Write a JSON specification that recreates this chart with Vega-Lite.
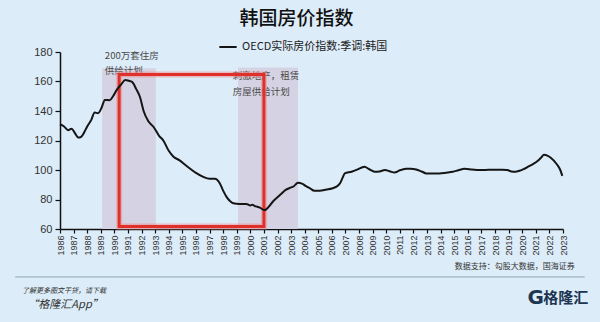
{
  "$schema": "https://vega.github.io/schema/vega-lite/v6.json",
  "autosize": {"type": "none"},
  "width": 503,
  "height": 177,
  "padding": {"left": 60, "top": 52, "right": 37, "bottom": 93},
  "background": "#dcecf8",
  "title": {
    "text": "韩国房价指数",
    "font": "Noto Sans CJK SC",
    "fontSize": 19,
    "fontWeight": 500,
    "color": "#111111",
    "anchor": "middle",
    "dx": -15,
    "offset": 8
  },
  "config": {
    "view": {"stroke": null},
    "font": "Noto Sans CJK SC",
    "axis": {"labelOverlap": false, "grid": false, "title": null, "tickColor": "#111111", "domainColor": "#111111", "domainWidth": 1.5, "tickWidth": 1.2, "labelColor": "#333333", "labelFont": "Liberation Sans"}
  },
  "datasets": {
    "price": [
      {"year": 1986.0, "value": 131}, {"year": 1986.3, "value": 129.5}, {"year": 1986.6, "value": 127},
      {"year": 1986.85, "value": 128}, {"year": 1987.1, "value": 125}, {"year": 1987.35, "value": 122},
      {"year": 1987.55, "value": 122.5}, {"year": 1987.75, "value": 125}, {"year": 1988.0, "value": 129.5},
      {"year": 1988.3, "value": 134}, {"year": 1988.55, "value": 139}, {"year": 1988.8, "value": 138.5},
      {"year": 1989.05, "value": 142}, {"year": 1989.3, "value": 147.5}, {"year": 1989.65, "value": 147.3},
      {"year": 1989.9, "value": 150}, {"year": 1990.15, "value": 154}, {"year": 1990.5, "value": 158},
      {"year": 1990.8, "value": 161}, {"year": 1991.05, "value": 160.5}, {"year": 1991.3, "value": 159.7},
      {"year": 1991.6, "value": 155}, {"year": 1991.9, "value": 149}, {"year": 1992.15, "value": 140},
      {"year": 1992.5, "value": 133}, {"year": 1992.9, "value": 129}, {"year": 1993.3, "value": 123},
      {"year": 1993.6, "value": 120}, {"year": 1994.0, "value": 113}, {"year": 1994.35, "value": 109},
      {"year": 1994.8, "value": 106.5}, {"year": 1995.2, "value": 103.5}, {"year": 1995.55, "value": 101},
      {"year": 1996.0, "value": 98}, {"year": 1996.5, "value": 95.5}, {"year": 1997.0, "value": 94},
      {"year": 1997.4, "value": 94}, {"year": 1997.75, "value": 91}, {"year": 1998.0, "value": 86},
      {"year": 1998.25, "value": 81.8}, {"year": 1998.5, "value": 79}, {"year": 1998.75, "value": 77.4},
      {"year": 1999.2, "value": 77}, {"year": 1999.7, "value": 77}, {"year": 2000.0, "value": 76},
      {"year": 2000.15, "value": 76.5}, {"year": 2000.3, "value": 75.7}, {"year": 2000.7, "value": 74.5},
      {"year": 2001.05, "value": 72.8}, {"year": 2001.35, "value": 75}, {"year": 2001.65, "value": 78.5},
      {"year": 2002.0, "value": 81.5}, {"year": 2002.3, "value": 84}, {"year": 2002.6, "value": 86.5},
      {"year": 2002.9, "value": 87.8}, {"year": 2003.2, "value": 89}, {"year": 2003.5, "value": 91.3},
      {"year": 2003.8, "value": 90.8}, {"year": 2004.1, "value": 89}, {"year": 2004.4, "value": 87.5},
      {"year": 2004.7, "value": 86}, {"year": 2005.1, "value": 86}, {"year": 2005.6, "value": 86.8},
      {"year": 2006.0, "value": 87.5}, {"year": 2006.3, "value": 88.5}, {"year": 2006.6, "value": 91},
      {"year": 2006.8, "value": 95}, {"year": 2006.95, "value": 97.7}, {"year": 2007.45, "value": 98.8},
      {"year": 2007.9, "value": 100.4}, {"year": 2008.15, "value": 101.5}, {"year": 2008.4, "value": 102.2},
      {"year": 2008.75, "value": 100.5}, {"year": 2009.15, "value": 98.8}, {"year": 2009.5, "value": 99},
      {"year": 2009.9, "value": 100}, {"year": 2010.3, "value": 99}, {"year": 2010.6, "value": 98.3},
      {"year": 2011.0, "value": 99.8}, {"year": 2011.45, "value": 100.8}, {"year": 2011.8, "value": 100.9},
      {"year": 2012.2, "value": 100.4}, {"year": 2012.6, "value": 99}, {"year": 2012.95, "value": 97.7},
      {"year": 2013.4, "value": 97.6}, {"year": 2013.9, "value": 97.7}, {"year": 2014.4, "value": 98.2},
      {"year": 2014.9, "value": 98.8}, {"year": 2015.3, "value": 99.8}, {"year": 2015.75, "value": 100.8},
      {"year": 2016.3, "value": 100.4}, {"year": 2016.85, "value": 100}, {"year": 2017.5, "value": 100.1},
      {"year": 2018.1, "value": 100.2}, {"year": 2018.5, "value": 100.2}, {"year": 2018.9, "value": 100},
      {"year": 2019.2, "value": 99}, {"year": 2019.5, "value": 98.8}, {"year": 2019.8, "value": 99.5},
      {"year": 2020.1, "value": 100.6}, {"year": 2020.5, "value": 102.6}, {"year": 2020.85, "value": 104.3},
      {"year": 2021.15, "value": 106.2}, {"year": 2021.4, "value": 108.5}, {"year": 2021.6, "value": 110.3},
      {"year": 2021.85, "value": 109.8}, {"year": 2022.1, "value": 108.3}, {"year": 2022.5, "value": 104.4},
      {"year": 2022.8, "value": 100}, {"year": 2022.95, "value": 96}
    ],
    "bands": [
      {"start": 1989.1, "end": 1993.05, "lo": 60, "hi": 169},
      {"start": 1999.1, "end": 2003.5, "lo": 60, "hi": 169.5}
    ],
    "box": [
      {"start": 1990.35, "end": 2001.0, "lo": 61.7, "hi": 164.7}
    ],
    "notes": [
      {"year": 1989.3, "value": 177.2, "label": "200万套住房"},
      {"year": 1989.3, "value": 167.4, "label": "供给计划"},
      {"year": 1998.7, "value": 163.5, "label": "刺激地产，租赁"},
      {"year": 1998.7, "value": 152.7, "label": "房屋供给计划"}
    ],
    "sep": [
      {"start": 1982.7, "end": 2024.6, "value": 27.5}
    ]
  },
  "layer": [
    {
      "data": {"name": "bands"},
      "mark": {"type": "rect", "color": "#d5d3e3"},
      "encoding": {
        "x": {
          "field": "start", "type": "quantitative",
          "scale": {"domain": [1986, 2023], "nice": false, "zero": false},
          "axis": {
            "values": [1986,1987,1988,1989,1990,1991,1992,1993,1994,1995,1996,1997,1998,1999,2000,2001,2002,2003,2004,2005,2006,2007,2008,2009,2010,2011,2012,2013,2014,2015,2016,2017,2018,2019,2020,2021,2022,2023],
            "tickCount": 100,
            "format": "d",
            "labelAngle": -90,
            "labelFontSize": 9,
            "labelPadding": 2,
            "tickSize": 4,
            "labelOverlap": false
          }
        },
        "x2": {"field": "end"},
        "y": {
          "field": "lo", "type": "quantitative",
          "scale": {"domain": [60, 180], "nice": false, "zero": false},
          "axis": {
            "values": [60, 80, 100, 120, 140, 160, 180],
            "tickCount": 20,
            "labelFontSize": 11,
            "labelPadding": 3,
            "tickSize": 5,
            "labelOverlap": false
          }
        },
        "y2": {"field": "hi"}
      }
    },
    {
      "data": {"name": "notes"},
      "mark": {"type": "text", "align": "left", "baseline": "middle", "fontSize": 9.5, "color": "#4a4a4a", "font": "Noto Sans CJK SC"},
      "encoding": {
        "x": {"field": "year", "type": "quantitative"},
        "y": {"field": "value", "type": "quantitative"},
        "text": {"field": "label"}
      }
    },
    {
      "data": {"name": "box"},
      "mark": {"type": "rect", "fillOpacity": 0, "stroke": "#f08a8a", "strokeOpacity": 0.5, "strokeWidth": 6},
      "encoding": {
        "x": {"field": "start", "type": "quantitative"},
        "x2": {"field": "end"},
        "y": {"field": "lo", "type": "quantitative"},
        "y2": {"field": "hi"}
      }
    },
    {
      "data": {"name": "box"},
      "mark": {"type": "rect", "fillOpacity": 0, "stroke": "#e0302b", "strokeWidth": 3},
      "encoding": {
        "x": {"field": "start", "type": "quantitative"},
        "x2": {"field": "end"},
        "y": {"field": "lo", "type": "quantitative"},
        "y2": {"field": "hi"}
      }
    },
    {
      "data": {"name": "price"},
      "transform": [{"calculate": "'OECD实际房价指数:季调:韩国'", "as": "series"}],
      "mark": {"type": "line", "strokeWidth": 2, "interpolate": "monotone"},
      "encoding": {
        "x": {"field": "year", "type": "quantitative"},
        "y": {"field": "value", "type": "quantitative"},
        "color": {
          "field": "series", "type": "nominal",
          "scale": {"range": ["#151515"]},
          "legend": {
            "title": null,
            "orient": "none",
            "legendX": 158,
            "legendY": -15,
            "symbolType": "stroke",
            "symbolSize": 300,
            "symbolStrokeWidth": 2,
            "labelFontSize": 11,
            "labelColor": "#222222",
            "labelFont": "Noto Sans CJK SC",
            "labelLimit": 300
          }
        }
      }
    },
    {
      "data": {"name": "sep"},
      "mark": {"type": "rule", "color": "#93a6b3", "strokeWidth": 1},
      "encoding": {
        "x": {"field": "start", "type": "quantitative"},
        "x2": {"field": "end"},
        "y": {"field": "value", "type": "quantitative"}
      }
    },
    {
      "data": {"values": [
        {"year": 2023.87, "value": 34.3, "label": "数据支持：勾股大数据，国海证券"}
      ]},
      "mark": {"type": "text", "align": "right", "baseline": "middle", "fontSize": 8, "color": "#333333"},
      "encoding": {
        "x": {"field": "year", "type": "quantitative"},
        "y": {"field": "value", "type": "quantitative"},
        "text": {"field": "label"}
      }
    },
    {
      "data": {"values": [
        {"year": 1983.2, "value": 18, "label": "了解更多图文干货，请下载"}
      ]},
      "mark": {"type": "text", "align": "left", "baseline": "middle", "fontSize": 7, "fontStyle": "italic", "color": "#333333"},
      "encoding": {
        "x": {"field": "year", "type": "quantitative"},
        "y": {"field": "value", "type": "quantitative"},
        "text": {"field": "label"}
      }
    },
    {
      "data": {"values": [
        {"year": 1983.6, "value": 8.5, "label": "“格隆汇App”"}
      ]},
      "mark": {"type": "text", "align": "left", "baseline": "middle", "fontSize": 11, "fontStyle": "italic", "color": "#333333"},
      "encoding": {
        "x": {"field": "year", "type": "quantitative"},
        "y": {"field": "value", "type": "quantitative"},
        "text": {"field": "label"}
      }
    },
    {
      "data": {"values": [
        {"year": 2021.0, "value": 13.3, "label": "G"}
      ]},
      "mark": {"type": "text", "align": "center", "baseline": "middle", "fontSize": 20, "fontWeight": "bold", "color": "#1d3550", "font": "DejaVu Sans"},
      "encoding": {
        "x": {"field": "year", "type": "quantitative"},
        "y": {"field": "value", "type": "quantitative"},
        "text": {"field": "label"}
      }
    },
    {
      "data": {"values": [
        {"year": 2023.2, "value": 13.3, "label": "格隆汇"}
      ]},
      "mark": {"type": "text", "align": "center", "baseline": "middle", "fontSize": 15, "fontWeight": "bold", "color": "#1d3550"},
      "encoding": {
        "x": {"field": "year", "type": "quantitative"},
        "y": {"field": "value", "type": "quantitative"},
        "text": {"field": "label"}
      }
    }
  ]
}
